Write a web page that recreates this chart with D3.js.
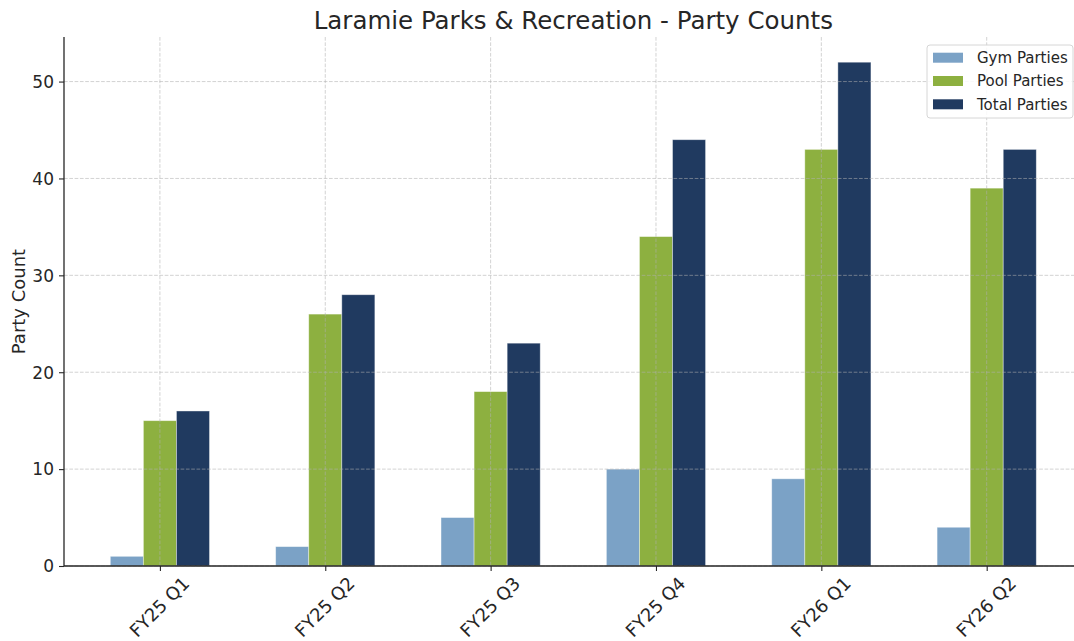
<!DOCTYPE html>
<html>
<head>
<meta charset="utf-8">
<script src="https://cdn.jsdelivr.net/npm/d3@7"></script>
<style>
  body { margin: 0; background: #fff; }
  svg { display: block; font-family: "DejaVu Sans", sans-serif; }
</style>
</head>
<body>
<svg id="chart" width="1074" height="641"></svg>
<script>
const categories = ["FY25 Q1", "FY25 Q2", "FY25 Q3", "FY25 Q4", "FY26 Q1", "FY26 Q2"];
const gymParties = [1, 2, 5, 10, 9, 4];
const poolParties = [15, 26, 18, 34, 43, 39];
const totalParties = [16, 28, 23, 44, 52, 43];
const seriesNames = ["Gym Parties", "Pool Parties", "Total Parties"];
const seriesColors = ["#7ba2c6", "#8db040", "#203a60"];
const yTicks = [0, 10, 20, 30, 40, 50];

const series = [gymParties, poolParties, totalParties];
const svg = d3.select("#chart");
const textColor = "#262626";

const pLeft = 64, pRight = 1082.6, pTop = 37, pBottom = 566;
const barW = 0.2;
const x = d3.scaleLinear().domain([-0.58, categories.length - 1 + 0.58]).range([pLeft, pRight]);
const yMax = d3.max(totalParties) * 1.05;
const y = d3.scaleLinear().domain([0, yMax]).range([pBottom, pTop]);

// bars
series.forEach((vals, si) => {
  svg.append("g").selectAll("rect").data(vals).join("rect")
    .attr("x", (d, i) => x(i + (si - 1) * barW - barW / 2))
    .attr("width", x(barW) - x(0))
    .attr("y", d => y(d))
    .attr("height", d => y(0) - y(d))
    .attr("fill", seriesColors[si])
    .attr("stroke", "#ffffff")
    .attr("stroke-opacity", 0.5)
    .attr("stroke-width", 0.8);
});

// grid on top
const grid = svg.append("g").attr("stroke", "#b0b0b0").attr("stroke-opacity", 0.7)
  .attr("stroke-width", 0.8).attr("stroke-dasharray", "3.7,1.6");
grid.selectAll("line.h").data(yTicks).join("line").attr("class", "h")
  .attr("x1", pLeft).attr("x2", pRight).attr("y1", d => y(d)).attr("y2", d => y(d));
grid.selectAll("line.v").data(categories).join("line").attr("class", "v")
  .attr("x1", (d, i) => x(i)).attr("x2", (d, i) => x(i)).attr("y1", pTop).attr("y2", pBottom);

// y axis
const yAxis = svg.append("g").attr("transform", `translate(${pLeft},0)`)
  .call(d3.axisLeft(y).tickValues(yTicks).tickSize(5).tickPadding(5).tickFormat(d3.format("d")));
yAxis.select(".domain").attr("stroke", textColor).attr("stroke-width", 1.3).attr("d", `M0,${pBottom}V${pTop}`);
yAxis.selectAll(".tick line").attr("stroke", textColor).attr("stroke-width", 1.1);
yAxis.selectAll(".tick text").attr("fill", textColor).attr("font-size", 17)
  .attr("font-family", "DejaVu Sans").attr("dy", "0.34em");

// x axis
const xAxis = svg.append("g").attr("transform", `translate(0,${pBottom})`)
  .call(d3.axisBottom(x).tickValues(d3.range(categories.length)).tickSize(5)
    .tickFormat(i => categories[i]));
xAxis.select(".domain").attr("stroke", textColor).attr("stroke-width", 1.3).attr("d", `M${pLeft},0H${pRight}`);
xAxis.selectAll(".tick line").attr("stroke", textColor).attr("stroke-width", 1.1);
xAxis.selectAll(".tick text").attr("fill", textColor).attr("font-size", 18)
  .attr("font-family", "DejaVu Sans")
  .attr("text-anchor", "middle").attr("dy", "0.35em")
  .attr("x", 0).attr("y", 0)
  .attr("transform", "translate(-1,41) rotate(-45)");

// y label
svg.append("text").attr("transform", `translate(18.5,${(pTop + pBottom) / 2}) rotate(-90)`)
  .attr("text-anchor", "middle").attr("dy", "0.35em").attr("fill", textColor).attr("font-size", 18)
  .text("Party Count");

// title
svg.append("text").attr("x", (pLeft + pRight) / 2).attr("y", 28.5)
  .attr("text-anchor", "middle").attr("fill", textColor).attr("font-size", 24.5)
  .text("Laramie Parks & Recreation - Party Counts");

// legend
const lg = svg.append("g");
lg.append("rect").attr("x", 927).attr("y", 45).attr("width", 146).attr("height", 73)
  .attr("rx", 3).attr("fill", "#fff").attr("fill-opacity", 0.85)
  .attr("stroke", "#d6d6d6").attr("stroke-width", 1);
seriesNames.forEach((name, i) => {
  const cy = 57.7 + i * 23.3;
  lg.append("rect").attr("x", 933).attr("y", cy - 5).attr("width", 30).attr("height", 10)
    .attr("fill", seriesColors[i]);
  lg.append("text").attr("x", 977).attr("y", cy).attr("dy", "0.35em")
    .attr("fill", textColor).attr("font-size", 15).text(name);
});
</script>
</body>
</html>
